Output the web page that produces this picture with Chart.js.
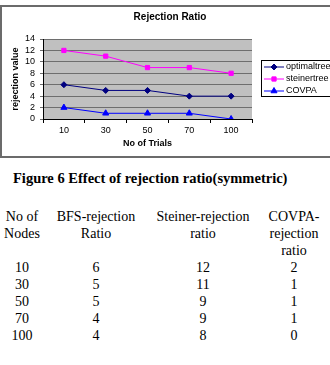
<!DOCTYPE html>
<html>
<head>
<meta charset="utf-8">
<script src="https://cdn.jsdelivr.net/npm/chart.js@4"></script>
<style>
  html, body { margin: 0; padding: 0; background: #fff; }
  body { width: 330px; height: 365px; position: relative; overflow: hidden; }
  #chartBox {
    position: absolute; left: 0; top: 5px; width: 340px; height: 153px;
    border: 2px solid #6b6b6b; box-sizing: border-box;
  }
  #chartBox canvas { display: block; }
  #caption {
    position: absolute; left: 13px; top: 170px;
    font: bold 14.5px "Liberation Serif", "Times New Roman", serif; line-height: 17px;
    color: #000; white-space: nowrap;
  }
  #dataTable {
    position: absolute; left: 0; top: 208px; border-collapse: collapse;
    font: 14px "Liberation Serif", "Times New Roman", serif; line-height: 17px; color: #000;
  }
  #dataTable td { padding: 0; text-align: center; vertical-align: top; }
</style>
</head>
<body>
<div id="chartBox"><canvas id="rejectionChart" width="336" height="149"></canvas></div>
<div id="caption">Figure 6 Effect of rejection ratio(symmetric)</div>
<table id="dataTable"></table>

<script>
const trials = ["10", "30", "50", "70", "100"];
const optimalTree = [6, 5, 5, 4, 4];
const steinerTree = [12, 11, 9, 9, 8];
const covpa = [2, 1, 1, 1, 0];
const tableHeaders = [["No of", "Nodes"], ["BFS-rejection", "Ratio"], ["Steiner-rejection", "ratio"], ["COVPA-", "rejection", "ratio"]];
const colWidths = [44, 104, 110, 72];

// build the table under the figure
const table = document.getElementById("dataTable");
let headRow = "<tr>";
tableHeaders.forEach((lines, i) => {
    headRow += `<td style="width:${colWidths[i]}px;height:51px">${lines.join("<br>")}</td>`;
});
table.innerHTML = headRow + "</tr>" + trials.map((t, i) =>
    `<tr><td>${t}</td><td>${optimalTree[i]}</td><td>${steinerTree[i]}</td><td>${covpa[i]}</td></tr>`
).join("");

const axisFont = "Arial, 'Liberation Sans', sans-serif";

// grey plot area like the old excel charts
const plotBackground = {
    id: "plotBackground",
    beforeDraw(chart) {
        const { ctx, chartArea: a } = chart;
        ctx.save();
        ctx.fillStyle = "#c0c0c0";
        ctx.fillRect(a.left, a.top, a.right - a.left, a.bottom - a.top);
        ctx.restore();
    }
};

// boxed legend on the right, line + marker per series
const boxLegend = {
    id: "boxLegend",
    afterDraw(chart) {
        const ctx = chart.ctx;
        const x0 = 259, y0 = 53;
        ctx.save();
        ctx.strokeStyle = "#000";
        ctx.lineWidth = 1;
        ctx.strokeRect(x0 + 0.5, y0 + 0.5, 100, 36);
        ctx.font = "9px " + axisFont;
        ctx.textBaseline = "middle";
        chart.data.datasets.forEach((ds, i) => {
            const y = y0 + 7 + i * 12;
            ctx.strokeStyle = ds.borderColor;
            ctx.beginPath();
            ctx.moveTo(x0 + 3, y);
            ctx.lineTo(x0 + 23, y);
            ctx.stroke();
            ctx.fillStyle = ds.pointBackgroundColor;
            Chart.helpers.drawPoint(ctx, {
                pointStyle: ds.pointStyle, radius: ds.pointRadius, borderWidth: 1
            }, x0 + 13, y);
            ctx.fillStyle = "#000";
            ctx.fillText(ds.label, x0 + 25, y);
        });
        ctx.restore();
    }
};

const ctx = document.getElementById("rejectionChart").getContext("2d");
new Chart(ctx, {
    type: "line",
    data: {
        labels: trials,
        datasets: [
            { label: "optimaltree", data: optimalTree, borderColor: "#000080", backgroundColor: "#000080",
              pointBackgroundColor: "#000080", pointBorderColor: "#000080", pointStyle: "rectRot", pointRadius: 3 },
            { label: "steinertree", data: steinerTree, borderColor: "#ff00ff", backgroundColor: "#ff00ff",
              pointBackgroundColor: "#ff00ff", pointBorderColor: "#ff00ff", pointStyle: "rect", pointRadius: 3 },
            { label: "COVPA", data: covpa, borderColor: "#0000ff", backgroundColor: "#0000ff",
              pointBackgroundColor: "#0000ff", pointBorderColor: "#0000ff", pointStyle: "triangle", pointRadius: 3.5 }
        ]
    },
    options: {
        responsive: false,
        animation: false,
        elements: { line: { borderWidth: 1, tension: 0 }, point: { borderWidth: 1 } },
        layout: { padding: 0 },
        plugins: {
            legend: { display: false },
            tooltip: { enabled: false },
            title: {
                display: true,
                text: "Rejection Ratio",
                color: "#000",
                font: { family: axisFont, size: 10, weight: "bold" },
                padding: { top: 4, bottom: 16 }
            }
        },
        scales: {
            x: {
                offset: true,
                grid: { offset: true, drawOnChartArea: false, drawTicks: true, tickLength: 4, color: "#000" },
                border: { color: "#000", width: 1 },
                ticks: { color: "#000", padding: 2, font: { family: axisFont, size: 9 } },
                title: {
                    display: true, text: "No of Trials", color: "#000",
                    font: { family: axisFont, size: 9, weight: "bold" },
                    padding: { top: 0, bottom: 7 }
                },
                afterFit(scale) { scale.height = 37; }
            },
            y: {
                min: 0, max: 14,
                grid: { color: "#6e6e6e", tickLength: 3, drawTicks: true },
                border: { color: "#000", width: 1 },
                ticks: { stepSize: 2, autoSkip: false, color: "#000", padding: 5, font: { family: axisFont, size: 9 } },
                title: {
                    display: true, text: "rejection value", color: "#000",
                    font: { family: axisFont, size: 9, weight: "bold" },
                    padding: { top: 8, bottom: 0 }
                },
                afterFit(scale) { scale.width = 41; }
            },
            // empty right-hand axis only to reserve room for the boxed legend
            spacer: {
                position: "right",
                display: true,
                min: 0, max: 1,
                grid: { display: false, drawOnChartArea: false },
                border: { display: false },
                ticks: { display: false },
                afterFit(scale) { scale.width = 86; }
            }
        }
    },
    plugins: [plotBackground, boxLegend]
});
</script>
</body>
</html>
